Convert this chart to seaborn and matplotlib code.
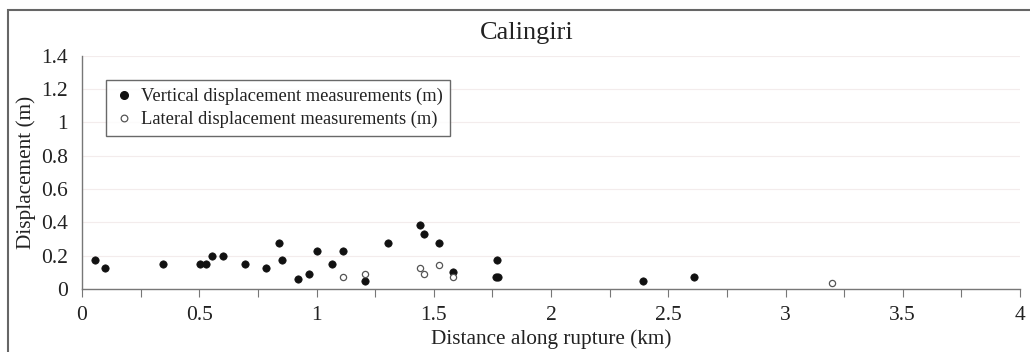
import matplotlib
matplotlib.use("Agg")
import matplotlib.pyplot as plt
import seaborn as sns
import pandas as pd
from matplotlib.patches import Rectangle
from matplotlib.lines import Line2D

vert_x = [0.057, 0.10, 0.347, 0.502, 0.529, 0.556, 0.603, 0.694, 0.785, 0.841, 0.851,
          0.922, 0.969, 1.003, 1.064, 1.114, 1.208, 1.307, 1.44, 1.458, 1.521, 1.582,
          1.771, 1.767, 1.774, 2.394, 2.608]
vert_y = [0.176, 0.128, 0.15, 0.15, 0.15, 0.20, 0.20, 0.15, 0.128, 0.278, 0.176,
          0.062, 0.088, 0.228, 0.15, 0.228, 0.048, 0.278, 0.384, 0.33, 0.278, 0.10,
          0.176, 0.074, 0.074, 0.048, 0.074]
lat_x = [1.114, 1.208, 1.44, 1.458, 1.521, 1.582, 3.2]
lat_y = [0.074, 0.088, 0.128, 0.088, 0.142, 0.074, 0.038]

title = "Calingiri"
xlabel = "Distance along rupture (km)"
ylabel = "Displacement (m)"
label_vert = "Vertical displacement measurements (m)"
label_lat = "Lateral displacement measurements (m)"

sns.set_style("white")
plt.rcParams['font.family'] = ['Liberation Serif', 'DejaVu Serif']

fig = plt.figure(figsize=(10.3, 3.52), dpi=100)
fig.patch.set_facecolor("white")
ax = fig.add_axes([82/1030, 1-289/352, (1020-82)/1030, (289-55.9)/352])

dv = pd.DataFrame({"x": vert_x, "y": vert_y})
dl = pd.DataFrame({"x": lat_x, "y": lat_y})
sns.scatterplot(data=dv, x="x", y="y", ax=ax, color="#111111", s=28, edgecolor="#111111",
                linewidth=0.5, zorder=3)
sns.scatterplot(data=dl, x="x", y="y", ax=ax, facecolor="white", s=20, edgecolor="#555555",
                linewidth=0.9, zorder=3)

ax.set_xlim(0, 4)
ax.set_ylim(0, 1.4)
ax.set_xticks([0, 0.5, 1, 1.5, 2, 2.5, 3, 3.5, 4])
ax.set_xticklabels(["0", "0.5", "1", "1.5", "2", "2.5", "3", "3.5", "4"])
ax.set_xticks([0.25, 0.75, 1.25, 1.75, 2.25, 2.75, 3.25, 3.75], minor=True)
ax.set_yticks([0, 0.2, 0.4, 0.6, 0.8, 1.0, 1.2, 1.4])
ax.set_yticklabels(["0", "0.2", "0.4", "0.6", "0.8", "1", "1.2", "1.4"])
ax.tick_params(axis="x", which="both", direction="out", length=6, width=0.8,
               color="#777777", labelsize=15.5, pad=6, bottom=True, labelcolor="#222222")
ax.tick_params(axis="y", length=0, labelsize=15.5, pad=10, labelcolor="#222222")
ax.grid(axis="y", color="#f3ecec", linewidth=0.8)
ax.set_axisbelow(True)
for s in ["top", "right"]:
    ax.spines[s].set_visible(False)
for s in ["left", "bottom"]:
    ax.spines[s].set_color("#777777")
    ax.spines[s].set_linewidth(1.0)

ax.set_xlabel(xlabel, fontsize=15.3, labelpad=3, color="#222222")
ax.set_ylabel(ylabel, fontsize=15.3, labelpad=4, color="#222222")
fig.text(527/1030, 1-33/352, title, ha="center", va="center", fontsize=19, color="#222222")

handles = [Line2D([], [], marker="o", linestyle="none", color="#111111", markersize=5.5),
           Line2D([], [], marker="o", linestyle="none", markerfacecolor="white",
                  markeredgecolor="#555555", markersize=4.8, markeredgewidth=0.9)]
leg = ax.legend(handles, [label_vert, label_lat], loc="upper left",
                bbox_to_anchor=((106-82)/938, (289-80)/233.1), fontsize=13.3,
                frameon=True, fancybox=False, edgecolor="#444444", handletextpad=0.3,
                borderpad=0.42, labelspacing=0.32, handlelength=1.15, borderaxespad=0)
leg.get_frame().set_linewidth(1.0)
for t in leg.get_texts():
    t.set_color("#222222")

fig.patches.append(Rectangle((8/1030, -0.05), 1.1, 1-10/352+0.05, transform=fig.transFigure,
                             fill=False, edgecolor="#666666", linewidth=1.5))

fig.savefig("out.png", dpi=100)
